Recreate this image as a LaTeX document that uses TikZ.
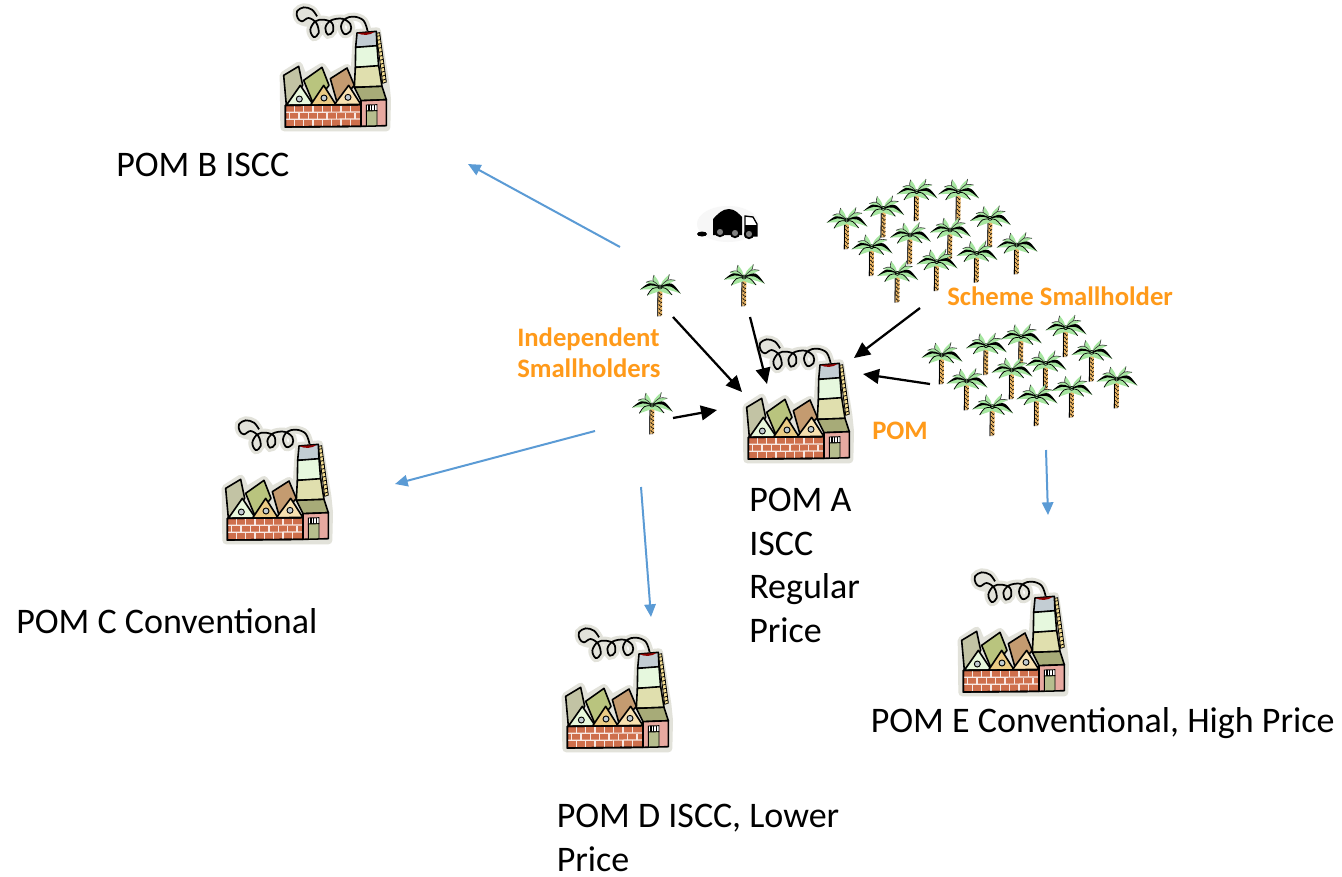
\documentclass[tikz,border=0pt]{standalone}
\usepackage{fontspec}
\setmainfont{Carlito}
\usetikzlibrary{arrows.meta,calc}
\definecolor{blueline}{HTML}{5B9BD5}
\definecolor{orangelab}{HTML}{FF9A1A}
\definecolor{halo}{HTML}{E2E2DA}
\definecolor{leafg}{HTML}{A6E6A0}
\definecolor{trunkc}{HTML}{EDB868}
\definecolor{brick}{HTML}{CE6F4C}
\definecolor{HaloLadder}{HTML}{F2DC92}
\definecolor{HTMLa}{HTML}{C3CDD3}
\definecolor{HTMLb}{HTML}{E6F8DE}
\definecolor{HTMLc}{HTML}{E0DFAE}
\definecolor{HTMLd}{HTML}{C2C3A4}
\definecolor{HTMLe}{HTML}{B9C47E}
\definecolor{HTMLf}{HTML}{C49B70}
\definecolor{HTMLg}{HTML}{E8F8DC}
\definecolor{HTMLh}{HTML}{EBCB84}
\definecolor{HTMLi}{HTML}{F8E1B0}
\definecolor{HTMLj}{HTML}{A7AB78}
\definecolor{HTMLk}{HTML}{E7A9A0}
\definecolor{HTMLl}{HTML}{B6BE8E}
\tikzset{
  x=0.75pt,y=-0.75pt,
  blackarrow/.style={draw=black,line width=1.7pt,-{Triangle[length=12pt,width=11pt]}},
  bluearrow/.style={draw=blueline,line width=1.5pt,-{Triangle[length=9.5pt,width=8.5pt]}},
  biglabel/.style={font=\fontsize{27}{32.6}\selectfont,anchor=west,inner sep=0pt,align=left,text=black},
  orangelabel/.style={font=\fontsize{20}{23.2}\selectfont\bfseries,anchor=west,inner sep=0pt,align=left,text=orangelab},
  fac/.style={draw=black,line width=1.2pt,line join=round},
  factory/.pic={
    \path[fill=halo,draw=halo,line width=6pt,line join=round]
      (50,232)--(95,203)--(110,240)--(165,207)--(188,238)--(240,210)--(262,240)--(270,105)--(330,100)--(355,255)--(360,305)--(358,388)--(52,388)--cycle;
    \draw[halo,line width=6pt,line cap=round] plot[smooth,tension=0.6] coordinates {(302,100)(290,68)(262,56)(235,62)(222,85)(232,108)(250,100)(250,78)(225,62)(190,68)(175,90)(183,110)(198,100)(195,75)(170,65)(145,70)(130,95)(140,117)(155,105)(148,75)(125,60)(105,70)(92,60)(90,40)(110,28)(135,35)(150,55)};
    \fill[halo] (118,62) circle (24);
    \draw[black,line width=1.3pt] plot[smooth,tension=0.6] coordinates {(302,100)(290,68)(262,56)(235,62)(222,85)(232,108)(250,100)(250,78)(225,62)(190,68)(175,90)(183,110)(198,100)(195,75)(170,65)(145,70)(130,95)(140,117)(155,105)(148,75)(125,60)(105,70)(92,60)(90,40)(110,28)(135,35)(150,55)};
    \draw[black,fill=HaloLadder,line width=0.6pt] (328,106)--(338,104)--(358,252)--(347,256)--cycle;
    \foreach \t in {0.06,0.14,...,0.98}{\draw[black,line width=0.6pt] ($(328,106)!\t!(347,256)$)--($(338,104)!\t!(358,252)$);}
    \draw[fac,fill=HTMLa] (270,105)--(328,100)--(330,145)--(266,148)--cycle;
    \draw[fac,fill=HTMLb] (266,148)--(330,143)--(335,205)--(265,208)--cycle;
    \draw[fac,fill=HTMLc] (265,208)--(335,203)--(345,265)--(262,268)--cycle;
    \fill[red!55!black] (272,105) .. controls (285,114) and (310,112) .. (322,102) -- cycle;
    \draw[fac,fill=HTMLd] (50,232)--(95,205)--(107,262)--(58,322)--cycle;
    \draw[fac,fill=HTMLe] (110,247)--(165,208)--(186,262)--(140,320)--cycle;
    \draw[fac,fill=HTMLf] (190,242)--(240,210)--(262,262)--(212,320)--cycle;
    \draw[fac,fill=HTMLg] (58,322)--(100,262)--(140,322)--cycle;
    \draw[fac,fill=HTMLh] (130,322)--(170,262)--(208,322)--cycle;
    \draw[fac,fill=HTMLi] (202,320)--(245,262)--(282,320)--cycle;
    \draw[black,fill=HTMLa,line width=0.7pt] (97,303) circle (9);
    \draw[black,fill=HTMLa,line width=0.7pt] (171,300) circle (9);
    \draw[black,fill=HTMLa,line width=0.7pt] (243,298) circle (9);
    \draw[fac,fill=HTMLj] (262,268)--(345,265)--(358,305)--(282,308)--cycle;
    \draw[fac,fill=HTMLk] (282,308)--(358,305)--(358,383)--(282,385)--cycle;
    \draw[black,fill=white,line width=0.7pt] (298,321)--(330,320)--(330,338)--(298,339)--cycle;
    \foreach \q in {306,314,322}{\draw[black,line width=0.9pt] (\q,321)--(\q,338);}
    \draw[black,fill=HTMLl,line width=0.7pt] (298,339)--(330,338)--(330,383)--(298,384)--cycle;
    \draw[fac,fill=brick] (55,322)--(282,320)--(282,385)--(55,387)--cycle;
    \foreach \yy in {343,364}{\draw[white!85!brick,line width=0.9pt] (56,\yy)--(281,\yy-1);}
    \foreach \xa in {82,110,138,166,194,222,250}{\draw[white!85!brick,line width=0.9pt] (\xa,323)--(\xa,342) (\xa,364)--(\xa,385);}
    \foreach \xa in {68,96,124,152,180,208,236,264}{\draw[white!85!brick,line width=0.9pt] (\xa,344)--(\xa,363);}
    \draw[fac] (55,322)--(282,320)--(282,385)--(55,387)--cycle;
  },
  palm/.pic={
    \fill[gray!70] (-8,8)--(4,8)--(3,88)--(-9,88)--cycle;
    \fill[trunkc] (-5,8)--(7,8)--(6,86)--(-6,86)--cycle;
    \foreach \yt in {16,28,40,52,64,76}{\draw[black,line width=0.5pt] (-4,\yt)--(1,\yt+5) (6,\yt+5)--(1,\yt+9);}
    \draw[black,line width=0.6pt] (-6,8)--(-7,88);
    \foreach \tx/\ty/\bx/\by/\cx/\cy in {-18/-36/-24/-16/-4/-18, 28/-38/24/-18/6/-18, -42/-14/-22/-22/-20/-4, 46/-20/22/-24/22/-6}{
      \fill[leafg] (0,0) .. controls (\bx,\by) and (\bx,\by) .. (\tx,\ty) .. controls (\cx,\cy) and (\cx,\cy) .. (0,3)--cycle;
      \draw[black!80,line width=0.45pt] (0,0) .. controls (\bx,\by) and (\bx,\by) .. (\tx,\ty);
    }
    \foreach \tx/\ty/\bx/\by/\cx/\cy in {-60/8/-32/-16/-28/-4, 62/20/36/-16/30/-2}{
      \fill[leafg] (0,-2) .. controls (\bx,\by) and (\bx,\by) .. (\tx,\ty) .. controls (\cx,\cy+10) and (\cx,\cy+10) .. (0,10)--cycle;
      \fill[black] (0,-2) .. controls (\bx,\by) and (\bx,\by) .. (\tx,\ty) .. controls (\cx,\cy-4) and (\cx,\cy-4) .. (0,1)--cycle;
    }
    \foreach \tx/\ty/\bx/\by/\cx/\cy in {-38/25/-24/2/-18/16, 36/24/18/2/14/18}{
      \fill[leafg] (0,2) .. controls (\bx,\by) and (\bx,\by) .. (\tx,\ty) .. controls (\cx,\cy) and (\cx,\cy) .. (0,12)--cycle;
      \draw[black,line width=0.55pt] (0,2) .. controls (\bx,\by) and (\bx,\by) .. (\tx,\ty);
    }
    \draw[black,fill=leafg,line width=0.45pt] (0,0) circle (6);
    \draw[black,line width=0.4pt] (-6,-3)--(6,3) (-6,3)--(6,-3);
  },
}
\begin{document}
\begin{tikzpicture}
\useasboundingbox (0,0) rectangle (1342,876);
\fill[white] (0,0) rectangle (1342,876);
\pic[scale=1/3] (facA) at (730,330) {factory};
\pic[scale=1/3] (facB) at (267,-2) {factory};
\pic[scale=1/3] (facC) at (209,411) {factory};
\pic[scale=1/3] (facD) at (549,619) {factory};
\pic[scale=1/3] (facE) at (945,563) {factory};
\foreach \zx/\zy [count=\i] in {290/65,415/65,190/115,510/145,80/150,390/180,270/195,155/230,590/225,470/250,350/275,232/310}{
  \pic[scale=1/3] (pone\i) at ({820+\zx/3},{170+\zy/3}) {palm};
}
\foreach \zx/\zy [count=\i] in {452/68,318/95,213/122,530/142,80/150,392/175,290/195,155/228,605/222,470/250,365/275,232/305}{
  \pic[scale=1/3] (ptwo\i) at ({915+\zx/3},{305+\zy/3}) {palm};
}
\pic[scale=1/3] (pindA) at (660,287) {palm};
\pic[scale=1/3] (pindB) at (744,277) {palm};
\pic[scale=1/3] (pindC) at (652,405) {palm};
% truck
\fill[gray!6] (728,224) ellipse (31 and 18);
\fill[black] (702,234) ellipse (5 and 2.5);
\fill[black] (713,219) .. controls (718,214) and (722,209) .. (729,209) .. controls (735,209) and (739,214) .. (742,217) -- (742,235) -- (713,235) -- cycle;
\draw[black,line width=1pt,fill=white] (745,216)--(753,217)--(757,224)--(757,236)--(745,236)--cycle;
\fill[black] (745,225)--(757,225)--(757,236)--(745,236)--cycle;
\foreach \wx/\wy in {720/232,735/233,749/234}{\draw[black,fill=gray,line width=1.4pt] (\wx,\wy) circle (4.2);}
\coordinate (a1s) at (673,317); \coordinate (a1e) at (742,392);
\coordinate (a2s) at (750,317); \coordinate (a2e) at (767,384);
\coordinate (a3s) at (673,418); \coordinate (a3e) at (717,410);
\coordinate (a4s) at (920,308); \coordinate (a4e) at (854,358);
\coordinate (a5s) at (930,384); \coordinate (a5e) at (863,374);
\coordinate (b1s) at (620,247); \coordinate (b1e) at (468,164);
\coordinate (b2s) at (595,431); \coordinate (b2e) at (395,484);
\coordinate (b3s) at (641,487); \coordinate (b3e) at (651,617);
\coordinate (b4s) at (1046,450); \coordinate (b4e) at (1048,515);
\draw[blackarrow] (a1s)--(a1e);
\draw[blackarrow] (a2s)--(a2e);
\draw[blackarrow] (a3s)--(a3e);
\draw[blackarrow] (a4s)--(a4e);
\draw[blackarrow] (a5s)--(a5e);
\draw[bluearrow] (b1s)--(b1e);
\draw[bluearrow] (b2s)--(b2e);
\draw[bluearrow] (b3s)--(b3e);
\draw[bluearrow] (b4s)--(b4e);
\node[biglabel] (lb) at (116,165) {POM B ISCC};
\node[biglabel] (lc) at (16,621) {POM C Conventional};
\node[biglabel] (ld) at (556.5,838) {POM D ISCC, Lower\\Price};
\node[biglabel] (le) at (870.5,723) {POM E Conventional, High Price};
\node[biglabel] (la) at (749,565.5) {POM A\\ISCC\\Regular\\Price};
\node[orangelabel] (li) at (517,353) {Independent\\Smallholders};
\node[orangelabel] (ls) at (947,296) {Scheme Smallholder};
\node[orangelabel] (lp) at (872,431) {POM};
\end{tikzpicture}
\end{document}
